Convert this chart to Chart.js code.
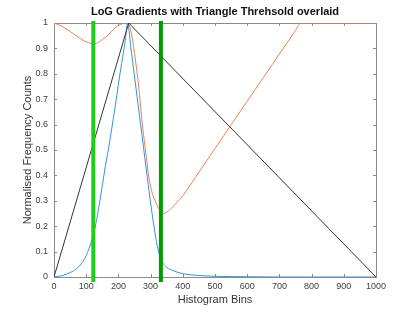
<!DOCTYPE html>
<html lang="en">
<head>
<meta charset="UTF-8" />
<title>LoG Gradients with Triangle Threshold</title>
<script src="https://cdn.jsdelivr.net/npm/chart.js"></script>
<style>
  html, body { margin: 0; padding: 0; background: #fff; }
</style>
</head>
<body>
<canvas id="myChart" width="415" height="313"></canvas>
<script>
// LoG gradient histogram (blue)
var blueX = [0, 20, 40, 60, 80, 100, 117, 130, 140, 150, 160, 170, 180, 190, 200, 210, 220, 229, 238, 248, 258, 268, 278, 288, 298, 308, 318, 328, 338, 350, 370, 400, 450, 500, 600, 700, 800, 900, 1000];
var blueY = [0, 0.004, 0.012, 0.024, 0.045, 0.085, 0.143, 0.21, 0.28, 0.36, 0.44, 0.51, 0.59, 0.67, 0.76, 0.84, 0.92, 1, 0.91, 0.81, 0.71, 0.61, 0.51, 0.41, 0.31, 0.22, 0.14, 0.085, 0.055, 0.038, 0.025, 0.013, 0.006, 0.003, 0.001, 0, 0, 0, 0];

// second curve (orange)
var orangeX = [0, 20, 40, 60, 80, 100, 127, 150, 170, 185, 200, 215, 229, 240, 250, 263, 272, 280, 287, 293, 303, 314, 325, 333, 340, 350, 360, 375, 390, 400, 450, 500, 550, 600, 650, 700, 750, 766, 800, 900, 1000];
var orangeY = [1, 0.99, 0.975, 0.958, 0.94, 0.926, 0.918, 0.935, 0.955, 0.975, 0.99, 0.998, 1, 0.96, 0.88, 0.75, 0.63, 0.54, 0.47, 0.407, 0.34, 0.3, 0.27, 0.255, 0.25, 0.255, 0.265, 0.285, 0.305, 0.32, 0.413, 0.506, 0.599, 0.692, 0.785, 0.878, 0.971, 1, 1, 1, 1];

// triangle (black)
var triangleX = [0, 232, 1000];
var triangleY = [0, 1, 0];

// threshold lines (green)
var thresholds = [122, 332];
var thresholdColors = ["#1dcf1d", "#009c00"];

function toPoints(xs, ys) {
  var pts = [];
  for (var i = 0; i < xs.length; i++) {
    pts.push({ x: xs[i], y: ys[i] });
  }
  return pts;
}

function plainNumber(value) {
  return String(Math.round(value * 10) / 10);
}

var FONT = "'Liberation Sans', Arial, sans-serif";
var AXIS_COLOR = "#8a8a8a";

// MATLAB style box with inward ticks + title over the axes
var matlabBox = {
  id: "matlabBox",
  beforeDatasetsDraw: function(chart) {
    var ctx = chart.ctx;
    var a = chart.chartArea;
    var xs = chart.scales.x, ys = chart.scales.y;
    ctx.save();
    ctx.strokeStyle = AXIS_COLOR;
    ctx.lineWidth = 1;
    ctx.strokeRect(Math.round(a.left) + 0.5, Math.round(a.top) + 0.5,
                   Math.round(a.right - a.left), Math.round(a.bottom - a.top));
    ctx.beginPath();
    xs.ticks.forEach(function(t) {
      var px = Math.round(xs.getPixelForValue(t.value)) + 0.5;
      ctx.moveTo(px, a.bottom); ctx.lineTo(px, a.bottom - 3);
      ctx.moveTo(px, a.top); ctx.lineTo(px, a.top + 3);
    });
    ys.ticks.forEach(function(t) {
      var py = Math.round(ys.getPixelForValue(t.value)) + 0.5;
      ctx.moveTo(a.left, py); ctx.lineTo(a.left + 3, py);
      ctx.moveTo(a.right, py); ctx.lineTo(a.right - 3, py);
    });
    ctx.stroke();
    ctx.restore();
  },
  afterDraw: function(chart) {
    var ctx = chart.ctx;
    var a = chart.chartArea;
    ctx.save();
    ctx.fillStyle = "#111";
    ctx.font = "bold 11px " + FONT;
    ctx.textAlign = "center";
    ctx.textBaseline = "middle";
    ctx.fillText("LoG Gradients with Triangle Threhsold overlaid", (a.left + a.right) / 2, 12);
    ctx.restore();
  }
};

var datasets = [];
thresholds.forEach(function(t, i) {
  datasets.push({
    data: [{ x: t, y: -0.012 }, { x: t, y: 1.0 }],
    borderColor: thresholdColors[i],
    borderWidth: 4,
    borderCapStyle: "square",
    clip: false
  });
});
datasets.push({
  data: toPoints(triangleX, triangleY),
  borderColor: "#333333",
  borderWidth: 1
});
datasets.push({
  data: toPoints(orangeX, orangeY),
  borderColor: "#e6825a",
  borderWidth: 1,
  cubicInterpolationMode: "monotone"
});
datasets.push({
  data: toPoints(blueX, blueY),
  borderColor: "#3393d8",
  borderWidth: 1,
  cubicInterpolationMode: "monotone"
});

var ctx = document.getElementById("myChart").getContext("2d");
new Chart(ctx, {
  type: "line",
  data: { datasets: datasets },
  options: {
    responsive: false,
    animation: false,
    layout: { padding: { top: 23, right: 39, left: 0, bottom: 0 } },
    elements: { point: { radius: 0 }, line: { tension: 0, fill: false } },
    plugins: { legend: { display: false }, tooltip: { enabled: false } },
    scales: {
      x: {
        type: "linear",
        min: 0,
        max: 1000,
        ticks: { stepSize: 100, padding: 4, maxRotation: 0, color: "#404040", font: { family: FONT, size: 9 }, callback: plainNumber },
        grid: { display: false, drawTicks: false },
        border: { display: false },
        title: { display: true, text: "Histogram Bins", color: "#333", font: { family: FONT, size: 11 }, padding: { top: 0, bottom: 6 } },
        afterFit: function(s) { s.height = 36; }
      },
      y: {
        type: "linear",
        min: 0,
        max: 1,
        ticks: { stepSize: 0.1, padding: 6, color: "#404040", font: { family: FONT, size: 9 }, callback: plainNumber },
        grid: { display: false, drawTicks: false },
        border: { display: false },
        title: { display: true, text: "Normalised Frequency Counts", color: "#333", font: { family: FONT, size: 11 }, padding: { top: 21, bottom: 0 } },
        afterFit: function(s) { s.width = 54; }
      }
    }
  },
  plugins: [matlabBox]
});
</script>
</body>
</html>
